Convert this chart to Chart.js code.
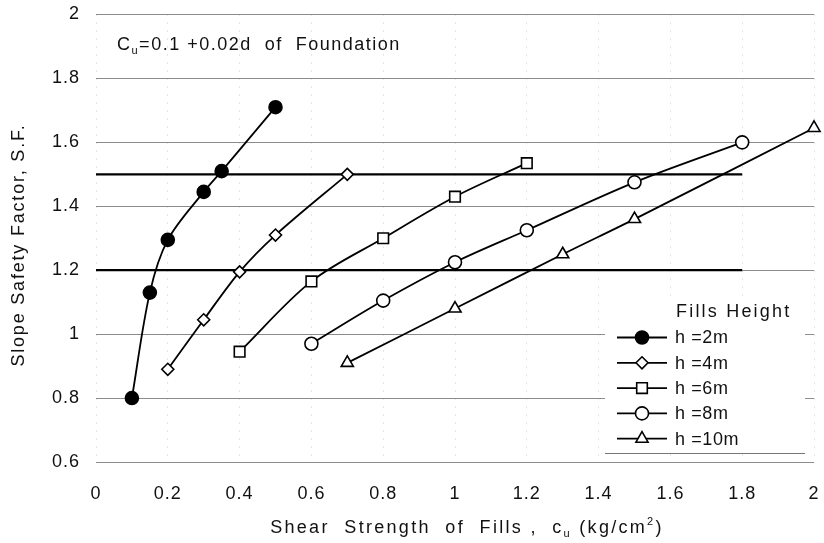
<!DOCTYPE html>
<html>
<head>
<meta charset="utf-8">
<script src="https://cdn.jsdelivr.net/npm/chart.js@4.4.1/dist/chart.umd.min.js"></script>
<style>
  html, body { margin: 0; padding: 0; background: #fff; }
  #wrap { width: 824px; height: 543px; position: relative; }
</style>
</head>
<body>
<div id="wrap"><canvas id="sfChart"></canvas></div>
<script>
// Slope safety factor vs. shear strength of fills, one curve per fill height

const xTickValues = [0, 0.2, 0.4, 0.6, 0.8, 1, 1.2, 1.4, 1.6, 1.8, 2];
const yTickValues = [0.6, 0.8, 1, 1.2, 1.4, 1.6, 1.8, 2];

const heightLabels = ['h =2m', 'h =4m', 'h =6m', 'h =8m', 'h =10m'];

const cuH2 = [0.1, 0.15, 0.2, 0.3, 0.35, 0.5];
const sfH2 = [0.80, 1.13, 1.295, 1.445, 1.51, 1.71];
const cuH4 = [0.2, 0.3, 0.4, 0.5, 0.7];
const sfH4 = [0.89, 1.045, 1.195, 1.31, 1.50];
const cuH6 = [0.4, 0.6, 0.8, 1.0, 1.2];
const sfH6 = [0.945, 1.165, 1.30, 1.43, 1.535];
const cuH8 = [0.6, 0.8, 1.0, 1.2, 1.5, 1.8];
const sfH8 = [0.97, 1.105, 1.225, 1.325, 1.475, 1.60];
const cuH10 = [0.7, 1.0, 1.3, 1.5, 2.0];
const sfH10 = [0.91, 1.08, 1.25, 1.36, 1.645];

// required safety factor levels
const requiredSF = [1.5, 1.2];
const requiredFrom = 0;
const requiredTo = 1.8;

const FONT = "'Liberation Sans', Arial, sans-serif";

const pts = (xs, ys) => xs.map((x, i) => ({ x, y: ys[i] }));

const markerStyles = [
  { pointStyle: 'circle', radius: 6.5, fill: '#000' },
  { pointStyle: 'rectRot', radius: 6, fill: '#fff' },
  { pointStyle: 'rect', radius: 7.5, fill: '#fff' },
  { pointStyle: 'circle', radius: 6.5, fill: '#fff' },
  { pointStyle: 'triangle', radius: 7, fill: '#fff' }
];

const seriesData = [
  pts(cuH2, sfH2), pts(cuH4, sfH4), pts(cuH6, sfH6), pts(cuH8, sfH8), pts(cuH10, sfH10)
];

const datasets = seriesData.map((data, i) => ({
  label: heightLabels[i],
  data,
  clip: false,
  borderColor: '#000',
  borderWidth: 1.8,
  tension: 0.33,
  pointStyle: markerStyles[i].pointStyle,
  pointRadius: markerStyles[i].radius,
  pointBackgroundColor: markerStyles[i].fill,
  pointBorderColor: '#000',
  pointBorderWidth: 1.6
}));

requiredSF.forEach(sf => {
  datasets.push({
    label: 'SF ' + sf,
    data: [{ x: requiredFrom, y: sf }, { x: requiredTo, y: sf }],
    borderColor: '#000',
    borderWidth: 2.2,
    pointRadius: 0,
    isReference: true
  });
});

// text with sub/superscript pieces, drawn left-to-right
function drawRich(ctx, parts, x, y, size, spacing, align) {
  ctx.save();
  ctx.fillStyle = '#111';
  ctx.textBaseline = 'alphabetic';
  ctx.letterSpacing = spacing + 'px';
  const fontFor = p => (p.sub || p.sup ? Math.round(size * 0.62) : size) + 'px ' + FONT;
  let total = 0;
  parts.forEach(p => { ctx.font = fontFor(p); total += ctx.measureText(p.t).width; });
  let cx = align === 'center' ? x - total / 2 : x;
  parts.forEach(p => {
    ctx.font = fontFor(p);
    let dy = 0;
    if (p.sub) dy = size * 0.22;
    if (p.sup) dy = -size * 0.42;
    ctx.fillText(p.t, cx, y + dy);
    cx += ctx.measureText(p.t).width;
  });
  ctx.restore();
}

const textPlugin = {
  id: 'chartTexts',
  beforeDraw(chart) {
    chart.ctx.letterSpacing = '1px';
  },
  afterDraw(chart) {
    const ctx = chart.ctx;

    // formula note
    drawRich(ctx, [
      { t: 'C' }, { t: 'u', sub: true }, { t: '=0.1 +0.02d  of  Foundation' }
    ], 117, 50, 18, 1.5, 'left');

    // x axis title
    drawRich(ctx, [
      { t: 'Shear  Strength  of  Fills ,  c' }, { t: 'u', sub: true },
      { t: ' (kg/cm' }, { t: '2', sup: true }, { t: ')' }
    ], 467, 533, 18, 2.3, 'center');

    // y axis title
    ctx.save();
    ctx.translate(24, 245);
    ctx.rotate(-Math.PI / 2);
    ctx.fillStyle = '#111';
    ctx.font = '18px ' + FONT;
    ctx.letterSpacing = '1.8px';
    ctx.textAlign = 'center';
    ctx.textBaseline = 'alphabetic';
    ctx.fillText('Slope Safety Factor, S.F.', 0, 0);
    ctx.restore();

    // legend box
    const bx = 605, by = 297, bw = 200, bh = 156;
    ctx.save();
    ctx.fillStyle = '#fff';
    ctx.fillRect(bx, by, bw, bh);
    ctx.strokeStyle = '#777';
    ctx.lineWidth = 1;
    ctx.beginPath();
    ctx.moveTo(bx, by + bh + 0.5);
    ctx.lineTo(bx + bw, by + bh + 0.5);
    ctx.stroke();

    ctx.fillStyle = '#111';
    ctx.font = '18px ' + FONT;
    ctx.letterSpacing = '2.2px';
    ctx.textBaseline = 'middle';
    ctx.fillText('Fills Height', 676, 312);

    ctx.letterSpacing = '0.6px';
    chart.data.datasets.filter(d => !d.isReference).forEach((d, i) => {
      const y = 337.5 + i * 25.3;
      ctx.strokeStyle = '#000';
      ctx.lineWidth = 1.8;
      ctx.beginPath();
      ctx.moveTo(617, y);
      ctx.lineTo(667, y);
      ctx.stroke();
      ctx.fillStyle = d.pointBackgroundColor;
      ctx.strokeStyle = '#000';
      ctx.lineWidth = 1.6;
      Chart.helpers.drawPoint(ctx, {
        pointStyle: d.pointStyle,
        radius: d.pointRadius,
        borderWidth: 1.6,
        rotation: 0
      }, 642, y);
      ctx.fillStyle = '#111';
      ctx.fillText(d.label, 675, y + 1);
    });
    ctx.restore();
  }
};

new Chart(document.getElementById('sfChart'), {
  type: 'line',
  data: { datasets },
  plugins: [textPlugin],
  options: {
    responsive: true,
    maintainAspectRatio: false,
    animation: false,
    layout: { padding: { top: 14.5, right: 10, left: 0, bottom: 0 } },
    plugins: {
      legend: { display: false },
      tooltip: { enabled: false }
    },
    scales: {
      x: {
        type: 'linear',
        min: 0,
        max: 2,
        afterBuildTicks: s => { s.ticks = xTickValues.map(v => ({ value: v })); },
        afterFit: s => {
          s.height = 81;
          s.paddingLeft = 0;
          s.paddingRight = 0;
        },
        ticks: {
          color: '#111',
          font: { family: FONT, size: 18 },
          padding: 21,
          maxRotation: 0,
          callback: v => String(v)
        },
        grid: { color: 'rgba(0,0,0,0.2)', drawTicks: false },
        border: { display: false, dash: [1, 7] }
      },
      y: {
        type: 'linear',
        min: 0.6,
        max: 2,
        afterBuildTicks: s => { s.ticks = yTickValues.map(v => ({ value: v })); },
        afterFit: s => {
          s.width = 96;
          s.paddingTop = 0;
          s.paddingBottom = 0;
        },
        ticks: {
          color: '#111',
          font: { family: FONT, size: 18 },
          padding: 16,
          callback: v => String(v)
        },
        grid: { color: '#8c8c8c', lineWidth: 1, drawTicks: false },
        border: { display: false }
      }
    }
  }
});
</script>
</body>
</html>
